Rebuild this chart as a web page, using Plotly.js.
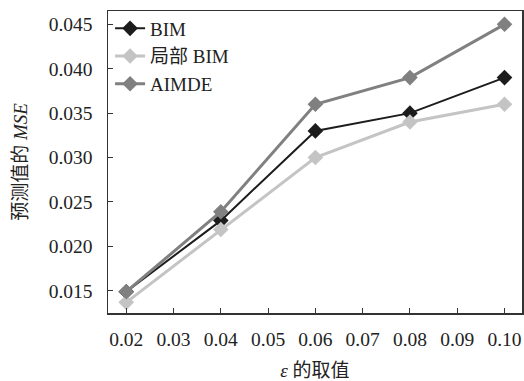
<!DOCTYPE html>
<html><head><meta charset="utf-8">
<script src="https://cdn.plot.ly/plotly-3.0.1.min.js"></script>
<style>body{margin:0;background:#fff}#c{width:524px;height:381px}</style>
</head><body><div id="c"></div>
<script>
var epsilon = [0.02, 0.04, 0.06, 0.08, 0.10];
var bim = [0.0149, 0.0229, 0.0330, 0.0350, 0.0390];
var localBim = [0.0137, 0.0219, 0.0300, 0.0340, 0.0360];
var aimde = [0.0149, 0.0239, 0.0360, 0.0390, 0.0450];
var xTicks = [0.02, 0.03, 0.04, 0.05, 0.06, 0.07, 0.08, 0.09, 0.10];
var xTickText = ['0.02','0.03','0.04','0.05','0.06','0.07','0.08','0.09','0.10'];
var yTicks = [0.015, 0.020, 0.025, 0.030, 0.035, 0.040, 0.045];
var yTickText = ['0.015','0.020','0.025','0.030','0.035','0.040','0.045'];

var serif = '"Times New Roman", "Liberation Serif", "Noto Sans CJK SC", serif';
function tr(name, y, color, w) {
  return {x: epsilon, y: y, name: name, type: 'scatter', mode: 'lines+markers',
    line: {color: color, width: w}, marker: {symbol: 'diamond', size: 12, color: color}};
}
var data = [
  tr('BIM', bim, '#1c1c1c', 2),
  tr('局部 BIM', localBim, '#c4c4c4', 3),
  tr('AIMDE', aimde, '#808080', 3)
];
var layout = {
  width: 524, height: 381,
  margin: {l: 108, r: 2, t: 11, b: 68},
  paper_bgcolor: '#fff', plot_bgcolor: '#fff',
  font: {family: serif, size: 19.5, color: '#222'},
  showlegend: true,
  legend: {x: 0.005, y: 1.005, xanchor: 'left', yanchor: 'top', bgcolor: 'rgba(0,0,0,0)',
    font: {family: serif, size: 19, color: '#222'}, tracegroupgap: 0, itemwidth: 30},
  xaxis: {range: [0.01614, 0.1037], tickvals: xTicks, ticktext: xTickText,
    ticks: 'inside', ticklen: 5, tickcolor: '#333', showgrid: false, zeroline: false,
    showline: true, linecolor: '#333', linewidth: 1.5, mirror: true, ticklabelstandoff: 8,
    tickfont: {family: serif, size: 19.5, color: '#222'},
    title: {text: '<i>ε</i> 的取值', font: {family: serif, size: 19, color: '#222'}, standoff: 15}},
  yaxis: {range: [0.0125, 0.0465], tickvals: yTicks, ticktext: yTickText,
    ticks: 'inside', ticklen: 5, tickcolor: '#333', showgrid: false, zeroline: false,
    showline: true, linecolor: '#333', linewidth: 1.5, mirror: true, ticklabelstandoff: 10,
    tickfont: {family: serif, size: 19.5, color: '#222'},
    title: {text: '预测值的 <i>MSE</i>', font: {family: serif, size: 19, color: '#222'}, standoff: 16}}
};
Plotly.newPlot('c', data, layout, {displayModeBar: false, staticPlot: true});
</script></body></html>
